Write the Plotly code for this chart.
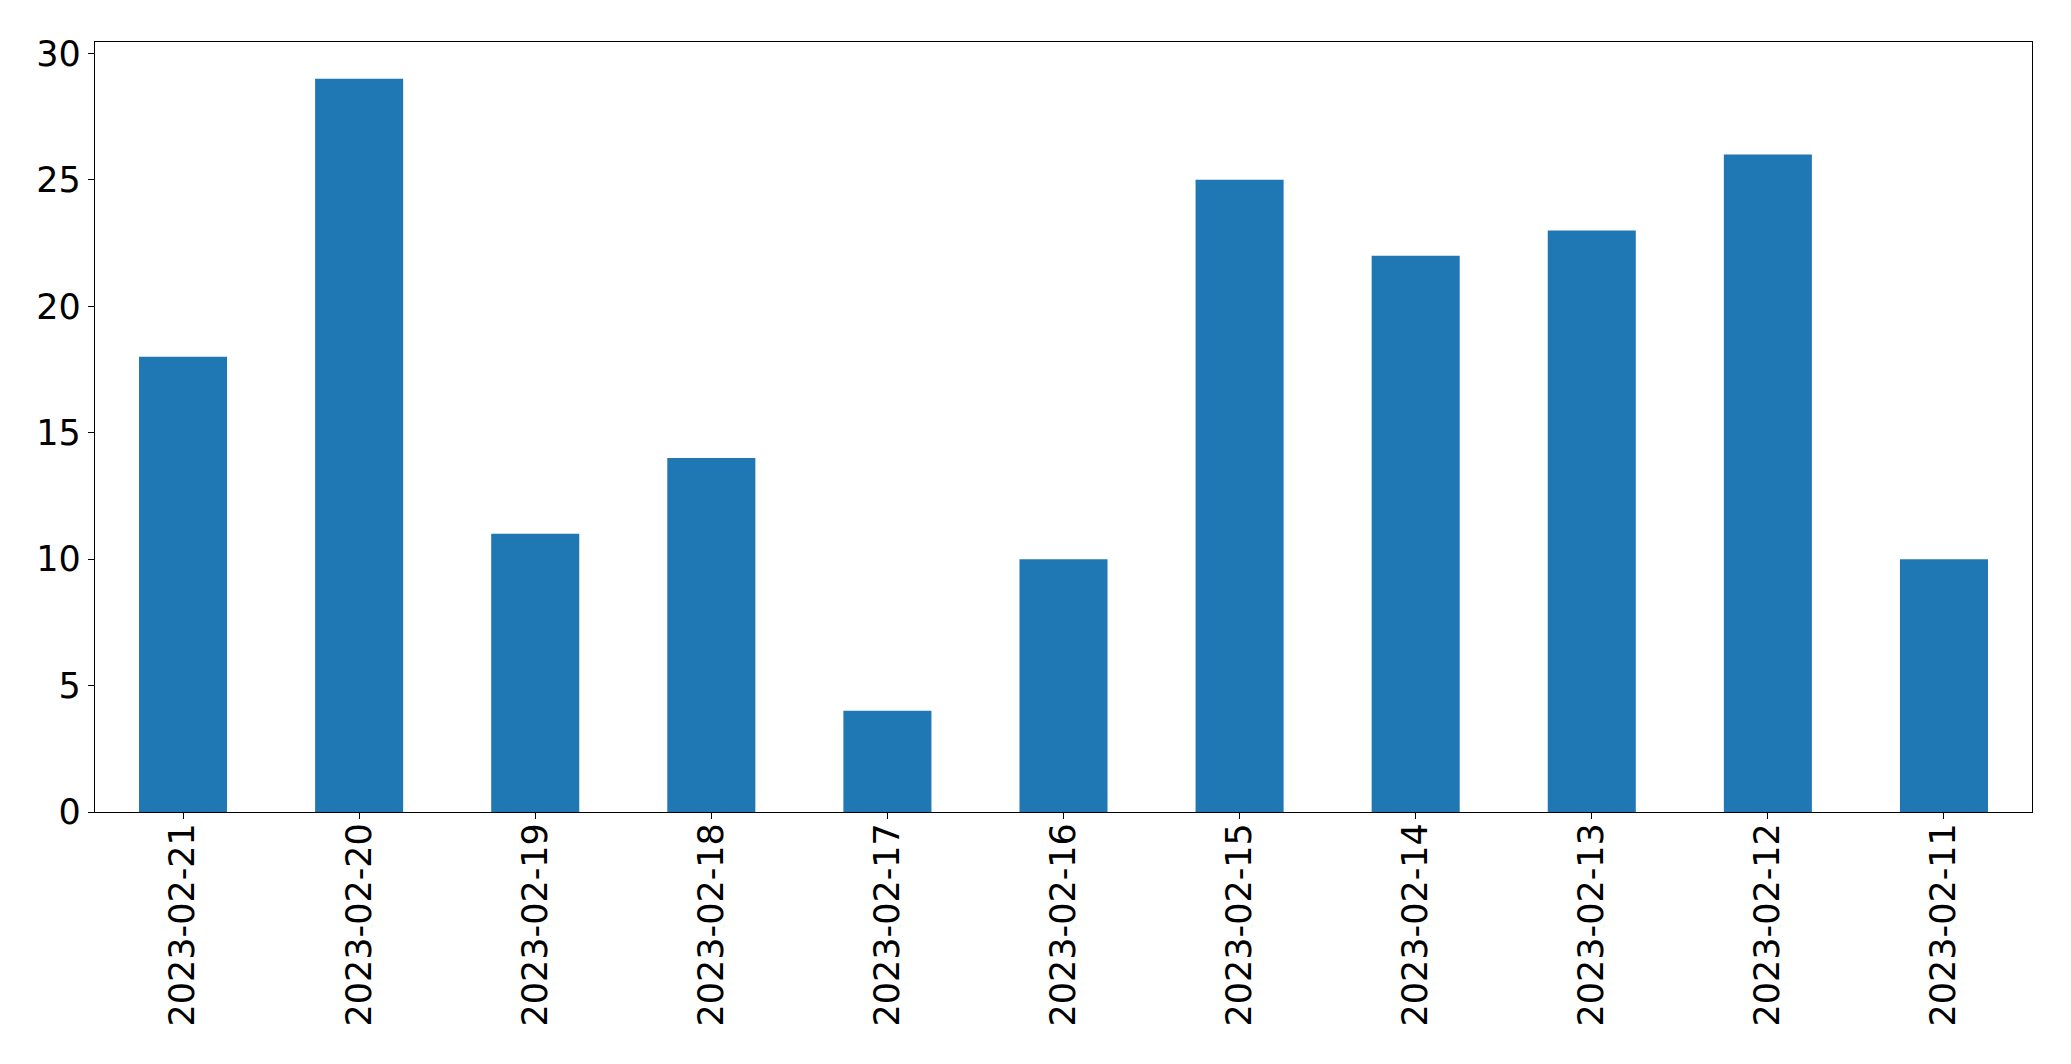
import plotly.graph_objects as go

categories = ["2023-02-21", "2023-02-20", "2023-02-19", "2023-02-18", "2023-02-17",
              "2023-02-16", "2023-02-15", "2023-02-14", "2023-02-13", "2023-02-12", "2023-02-11"]
values = [18, 29, 11, 14, 4, 10, 25, 22, 23, 26, 10]
y_ticks = [0, 5, 10, 15, 20, 25, 30]

fig = go.Figure(go.Bar(
    x=list(range(len(categories))), y=values,
    width=0.5, marker=dict(color="#1f77b4", line=dict(width=0)),
))

# page body has a default 8px margin; compensate so plot area matches
font = dict(family="DejaVu Sans", size=35, color="black")
fig.update_layout(
    width=2063, height=1056,
    margin=dict(l=87, r=39, t=34, b=252),
    paper_bgcolor="white", plot_bgcolor="white",
    showlegend=False,
    font=font,
)
fig.update_xaxes(
    range=[-0.5, len(categories) - 0.5], automargin=False,
    tickmode="array", tickvals=list(range(len(categories))), ticktext=categories,
    tickangle=-90, ticks="outside", ticklen=6, tickwidth=1.3, tickcolor="black",
    ticklabelstandoff=-10,
    showline=True, linecolor="black", linewidth=1.3, mirror=True,
    showgrid=False, zeroline=False, tickfont=font,
)
fig.update_yaxes(
    range=[0, 29 * 1.05], automargin=False,
    tickmode="array", tickvals=y_ticks,
    ticks="outside", ticklen=6, tickwidth=1.3, tickcolor="black",
    showline=True, linecolor="black", linewidth=1.3, mirror=True,
    showgrid=False, zeroline=False, tickfont=font,
)
fig.write_html("out.html")
